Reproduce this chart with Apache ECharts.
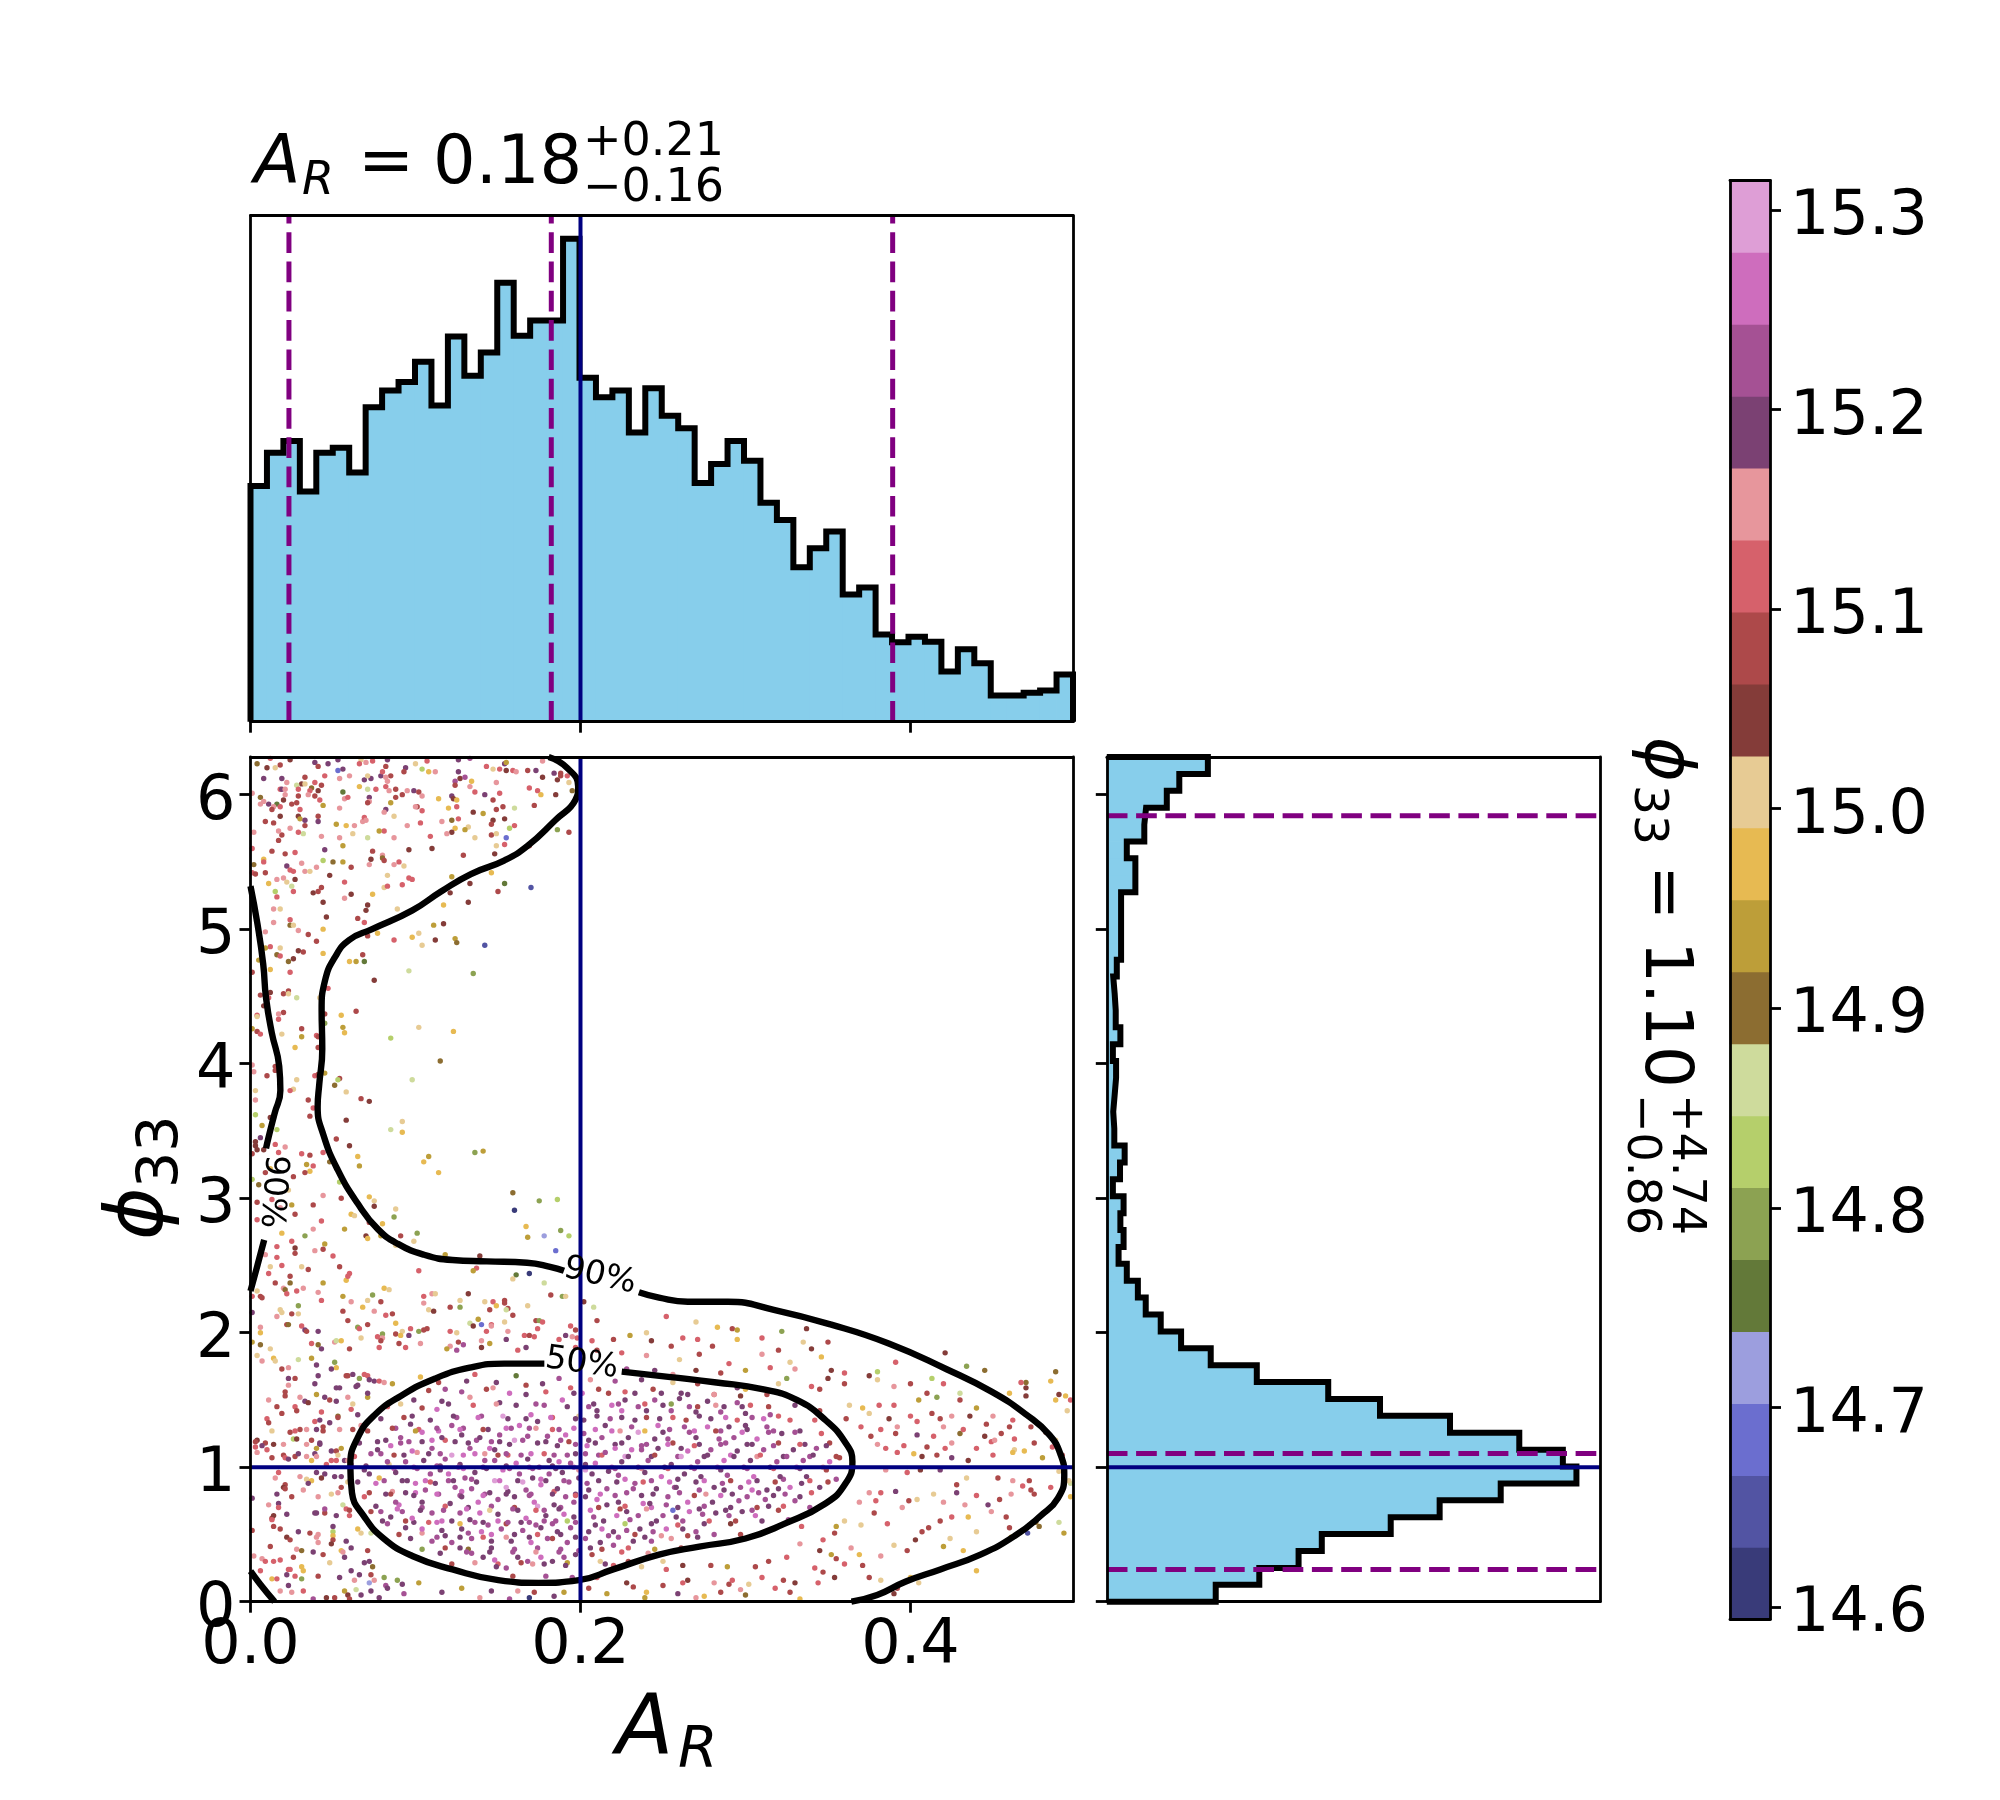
<!DOCTYPE html>
<html><head><meta charset="utf-8"><style>html,body{margin:0;background:#fff}#c{width:2000px;height:1800px}</style>
<script src="https://cdn.jsdelivr.net/npm/echarts@6/dist/echarts.min.js"></script></head><body><div id="c"></div>
<script>
const xMax=0.4985, yMax=6.28;
const histTop=[560,639,667,547,639,651,592,747,787,807,855,751,915,822,877,1043,917,953,953,1147,817,771,787,687,792,727,697,567,612,667,620,520,479,367,412,452,302,319,207,189,202,190,119,172,139,62,62,69,74,112];
const histTopMax=1202;
const histRight=[305,427,537,602,795,932,1103,1315,1277,1155,961,765,620,420,291,208,151,109,87,56,33,47,38,47,17,37,50,21,18,22,26,26,17,38,25,22,18,28,40,40,40,40,80,80,56,105,110,168,203,283];
const histRightMax=1381;
const qX=[0.0233,0.1823,0.3892];
const qY=[0.239,1.101,5.843];
const truthX=0.2, truthY=1;
const xTicks=[0,0.2,0.4];
const yTicks=[0,1,2,3,4,5,6];
const cbarTicks=[14.6,14.7,14.8,14.9,15.0,15.1,15.2,15.3];
const cbarMin=14.5938, cbarMax=15.3148;
const tab20b=['#393b79','#5254a3','#6b6ecf','#9c9ede','#637939','#8ca252','#b5cf6b','#cedb9c','#8c6d31','#bd9e39','#e7ba52','#e7cb94','#843c39','#ad494a','#d6616b','#e7969c','#7b4173','#a55194','#ce6dbd','#de9ed6'];
const contour90=[[0.1807,6.28],[0.1918,6.2],[0.1986,6.06],[0.1969,5.96],[0.1847,5.81],[0.1680,5.62],[0.1537,5.51],[0.1336,5.41],[0.1155,5.28],[0.0981,5.14],[0.0737,5.0],[0.0598,4.92],[0.0511,4.79],[0.0452,4.62],[0.0431,4.40],[0.0435,4.11],[0.0417,3.85],[0.0407,3.68],[0.0442,3.47],[0.0529,3.21],[0.0650,2.96],[0.0772,2.77],[0.0894,2.66],[0.1050,2.58],[0.1224,2.54],[0.1433,2.53],[0.1676,2.52],[0.1816,2.49],[0.1900,2.46]];
const contour90b=[[0.2354,2.30],[0.2476,2.26],[0.2650,2.23],[0.2894,2.23],[0.3172,2.17],[0.3520,2.06],[0.3868,1.92],[0.4216,1.73],[0.4494,1.56],[0.4703,1.39],[0.4842,1.24],[0.4911,1.09],[0.4932,0.94],[0.4894,0.77],[0.4790,0.64],[0.4633,0.49],[0.4424,0.35],[0.4181,0.24],[0.3972,0.15],[0.3798,0.05],[0.3642,0]];
const contour90c=[[0,5.32],[0.0042,5.04],[0.0077,4.74],[0.0094,4.49],[0.0129,4.23],[0.0174,3.98],[0.0181,3.80],[0.0146,3.63],[0.0111,3.46],[0.0094,3.37]];
const contour90d=[[0.0083,2.69],[0.0042,2.50],[0,2.31]];
const contour90e=[[0,0.227],[0.0059,0.13],[0.0146,0]];
const contour50=[[0.1781,1.77],[0.1538,1.77],[0.1328,1.74],[0.1120,1.66],[0.0911,1.53],[0.0754,1.39],[0.0650,1.22],[0.0605,1.01],[0.0615,0.81],[0.0685,0.64],[0.0807,0.47],[0.0981,0.34],[0.1224,0.24],[0.1502,0.16],[0.1746,0.14],[0.1990,0.16],[0.2198,0.24],[0.2476,0.35],[0.2720,0.41],[0.3000,0.47],[0.3238,0.58],[0.3485,0.73],[0.3607,0.88],[0.3648,1.04],[0.3607,1.18],[0.3485,1.35],[0.3311,1.50],[0.3102,1.58],[0.2824,1.63],[0.2546,1.67],[0.2250,1.71]];
const contourLabels=[['90%',0.2117,2.42,-13],['50%',0.2007,1.77,-8],['90%',0.0135,3.05,-94]];
// colour values (phi33 colour-scale value of each scatter point)
const q=14.61,u=14.65,e=14.68,w=14.72,f=14.76,n=14.79,k=14.83,c=14.86,b=14.90,g=14.94,y=14.97,t=15.01,dr=15.04,r=15.08,s=15.12,p=15.15,m=15.19,v=15.22,o=15.26,l=15.30;
// sparse upper-left region
const pointsUpper=[[.004,6.23,b],[.01,6.2,dr],[.015,6.2,t],[.018,6.22,r],[.024,6.26,dr],[.012,6.27,s],[.039,6.24,m],[.041,6.21,r],[.047,6.23,m],[.053,6.26,m],[.053,6.18,e],[.056,6.19,m],[.067,6.26,t],[.066,6.23,s],[.07,6.24,p],[.074,6.25,s],[.082,6.21,r],[.083,6.26,m],[.094,6.2,m],[.093,6.17,r],[.1,6.23,t],[.107,6.25,s],[.108,6.17,y],[.104,6.19,k],[.112,6.17,p],[.126,6.17,m],[.126,6.26,m],[.133,6.27,v],[.143,6.21,s],[.147,6.19,t],[.151,6.19,s],[.155,6.18,dr],[.154,6.23,m],[.155,6.24,g],[.159,6.18,s],[.161,6.17,p],[.168,6.18,r],[.173,6.18,m],[.177,6.25,p],[.184,6.16,m],[.188,6.16,r],
[.008,6.12,m],[.019,6.12,m],[.022,6.09,p],[.033,6.13,r],[.031,6.08,dr],[.033,6.08,t],[.028,6.07,c],[.037,6.05,b],[.039,6.09,s],[.043,6.07,r],[.045,6.14,s],[.054,6.12,p],[.06,6.14,p],[.069,6.11,m],[.073,6.12,m],[.071,6.14,t],[.079,6.14,m],[.08,6.17,s],[.085,6.14,r],[.082,6.13,p],[.083,6.1,p],[.066,6.06,y],[.071,6.04,c],[.076,6.04,s],[.082,6.06,s],[.084,6.03,p],[.088,6.04,r],[.099,6.03,m],[.102,6.02,r],[.095,6.03,p],[.127,6.12,dr],[.124,6.1,v],[.13,6.13,v],[.134,6.1,y],[.124,6.07,r],[.133,6.06,p],[.149,6.09,p],[.177,6.13,dr],[.186,6.11,dr],[.188,6.14,r],[.192,6.14,s],[.193,6.09,t],[.195,6.03,b],[.169,6.05,s],[.174,6.03,s],
[.001,6.01,p],[.006,5.98,b],[.018,6.04,s],[.019,6.04,m],[.021,6.04,p],[.021,6,p],[.029,6.04,s],[.029,5.99,r],[.028,5.94,r],[.025,5.93,r],[.02,5.96,dr],[.016,5.93,f],[.011,5.93,m],[.008,5.95,p],[.006,5.93,p],[.014,5.91,p],[.018,5.91,s],[.013,5.89,r],[.036,6.03,s],[.035,6,p],[.039,5.99,r],[.041,6.03,dr],[.042,5.96,s],[.044,5.92,g],[.056,6.02,f],[.054,5.9,p],[.057,5.97,p],[.059,5.98,s],[.072,5.98,m],[.072,5.95,p],[.071,5.94,r],[.085,5.94,g],[.082,5.89,m],[.081,5.87,p],[.088,5.98,r],[.092,6,r],[.104,5.99,p],[.114,5.97,y],[.101,5.91,r],[.1,5.91,p],[.104,5.88,s],[.122,5.99,m],[.123,5.97,dr],[.125,5.96,y],[.125,5.91,s],[.12,5.9,y],[.136,6.02,s],[.142,6,m],[.151,6.01,s],[.147,5.96,r],[.153,5.91,r],[.149,5.89,r],[.16,5.9,c],[.172,5.92,r],[.176,6,y],[.185,6,dr],
[.03,5.89,s],[.029,5.84,dr],[.03,5.82,g],[.018,5.84,dr],[.009,5.8,r],[.014,5.79,r],[.033,5.81,m],[.033,5.77,r],[.041,5.84,r],[.041,5.8,m],[.052,5.78,g],[.058,5.77,y],[.063,5.77,p],[.068,5.8,p],[.069,5.83,s],[.07,5.81,p],[.087,5.84,t],[.095,5.77,p],[.103,5.79,s],[.116,5.8,p],[.122,5.81,b],[.126,5.82,s],[.135,5.87,dr],[.141,5.86,g],[.147,5.81,dr],[.146,5.78,r],[.154,5.82,dr],[.16,5.77,s],[.157,5.75,k],[.124,5.75,y],[.132,5.76,t],[.13,5.74,g],[.122,5.72,dr],[.119,5.71,p],[.109,5.69,s],[.087,5.68,p],[.081,5.73,s],[.078,5.73,g],[.062,5.71,t],[.054,5.68,p],[.043,5.69,p],[.032,5.71,c],[.029,5.72,s],[.024,5.75,p],[.019,5.7,r],[.017,5.73,p],[.002,5.72,p],[.071,5.68,c],[.146,5.7,r],[.149,5.71,t],[.136,5.68,t],[.155,5.68,e],[.186,5.74,n],[.193,5.72,r],
[.017,5.66,r],[.001,5.6,s],[.013,5.58,r],[.021,5.56,r],[.027,5.57,s],[.045,5.59,m],[.056,5.62,g],[.074,5.58,r],[.08,5.55,p],[.096,5.59,dr],[.11,5.6,dr],[.149,5.62,t],[.154,5.63,s],[.169,5.62,r],[.129,5.55,r],[.148,5.56,dr],[.008,5.52,y],[.008,5.5,s],[.002,5.48,b],[.022,5.47,m],[.031,5.49,p],[.044,5.51,k],[.05,5.5,b],[.056,5.5,g],[.061,5.46,r],[.073,5.52,dr],[.08,5.53,b],[.081,5.51,r],[.072,5.48,p],[.087,5.48,p],[.09,5.5,s],[.093,5.47,t],[.024,5.44,s],[.026,5.43,s],[.033,5.43,p],[.036,5.43,t],[.04,5.46,p],[.001,5.42,s],[.003,5.41,r],[.009,5.42,r],[.048,5.4,dr],[.083,5.4,t],[.096,5.38,s],[.098,5.37,s],[.122,5.39,g],[.146,5.42,y],
[.011,5.34,y],[.016,5.37,p],[.02,5.38,p],[.022,5.35,t],[.027,5.37,dr],[.025,5.32,c],[.026,5.28,s],[.015,5.28,k],[.016,5.24,s],[.038,5.27,dr],[.041,5.28,r],[.043,5.31,r],[.057,5.35,s],[.061,5.26,dr],[.057,5.23,p],[.074,5.26,y],[.081,5.31,t],[.083,5.32,s],[.092,5.33,s],[.133,5.34,dr],[.154,5.34,f],[.17,5.31,u],[.15,5.28,r],[.121,5.27,dr],[.044,5.2,dr],[.071,5.18,dr],[.117,5.18,y],[.132,5.2,dr],
[.014,5.15,p],[.018,5.15,t],[.07,5.14,dr],[.089,5.15,t],[.046,5.09,dr],[.065,5.08,r],[.069,5.05,s],[.024,5.07,s],[.014,5.05,p],[.024,5.03,b],[.026,5.03,t],[.117,5.04,dr],[.111,5.03,g],[.009,4.98,p],[.029,4.99,p],[.035,4.96,r],[.044,5,y],[.077,4.97,y],[.071,4.95,r],[.087,4.92,s],[.098,4.94,y],[.102,4.97,t],[.124,4.93,g],[.125,4.9,b],[.112,4.92,dr],[.142,4.88,u],[.104,4.88,t],[.04,4.91,r],[.012,4.87,s],[.009,4.86,g],[.018,4.86,t],[.029,4.84,dr],[.032,4.83,r],[.044,4.82,y],[.016,4.81,b],[.018,4.8,s],[.026,4.78,dr],[.023,4.76,b],[.005,4.77,g],[.068,4.81,r],[.06,4.76,y],[.064,4.76,g],[.069,4.76,f],
[.012,4.7,y],[.024,4.68,s],[.001,4.68,r],[.096,4.69,c],[.135,4.67,n],[.075,4.62,dr],[.047,4.56,s],[.023,4.54,r],[.02,4.52,r],[.023,4.52,t],[.012,4.53,dr],[.006,4.51,r],[.011,4.49,s],[.028,4.49,c],[.042,4.49,t],[.008,4.43,dr],[.02,4.38,r],[.017,4.37,p],[.004,4.36,s],[.004,4.35,t],[.045,4.37,r],[.064,4.39,r],[.055,4.36,y],[.017,4.33,s],[.045,4.3,n],[.004,4.24,r],
[.031,4.26,r],[.056,4.27,g],[.102,4.27,t],[.001,4.26,g],[.057,4.23,y],[.123,4.24,y],[.006,4.22,s],[.019,4.22,t],[.031,4.2,g],[.04,4.21,s],[.041,4.2,r],[.085,4.19,k],[.027,4.12,y],[.041,4.12,r],[.115,4.02,b],[.015,3.95,r],[.039,3.91,s],[.015,3.98,r],[.001,3.99,p],[.002,3.94,p],[.045,3.93,g],[.041,3.92,r],[.01,3.91,r],[.028,3.88,t],[.054,3.89,r],[.053,3.88,k],[.098,3.88,c],[.051,3.84,b],[.003,3.8,t],[.026,3.81,t],[.024,3.8,s],[.058,3.79,t],[.035,3.73,r],[.067,3.74,r],[.072,3.72,dr],[.003,3.73,p],
[.012,3.6,dr],[.003,3.62,k],[.007,3.54,g],[.016,3.51,k],[.006,3.45,m],[.015,3.4,s],[.003,3.42,dr],[.003,3.39,dr],[.004,3.36,dr],[.008,3.36,dr],[.001,3.33,r],[.021,3.38,p],[.017,3.34,s],[.031,3.33,s],[.036,3.32,r],[.044,3.34,s],[.036,3.61,r],[.038,3.67,s],[.058,3.58,dr],[.052,3.44,r],[.06,3.39,dr],[.065,3.31,y],[.066,3.24,g],[.048,3.27,b],[.034,3.25,g],[.038,3.24,s],[.036,3.2,y],[.033,3.19,r],[.026,3.16,r],[.009,3.19,r],[.012,3.22,y],[.001,3.14,k],[.005,3.1,b],[.023,3.06,t],[.054,3.12,k],[.044,3.02,p],[.055,3,r],[.013,2.99,s],[.004,2.97,r],[.025,2.95,g],[.038,2.95,r],[.018,2.93,p],[.027,2.88,r],[.004,2.84,s],[.043,2.83,s],[.038,2.77,p],[.019,2.74,y],[.033,2.72,n],[.025,2.68,s],[.016,2.64,s],[.027,2.63,dr],[.027,2.59,r],[.009,2.58,p],[.016,2.56,s],[.045,2.66,g],[.044,2.62,r],[.039,2.61,p],[.05,2.57,s],[.057,2.77,g],
[.092,3.57,t],[.092,3.49,y],[.085,3.51,c],[.136,3.34,n],[.141,3.35,g],[.105,3.27,y],[.108,3.31,g],[.114,3.19,y],[.072,3.01,y],[.075,2.98,t],[.075,2.94,dr],[.088,2.92,t],[.087,2.86,n],[.159,3.04,b],[.175,2.98,n],[.186,2.99,k],[.16,2.91,q],[.061,2.88,y],[.063,2.87,t],[.072,2.82,r],[.08,2.81,y],[.167,2.79,y],[.168,2.71,g],[.178,2.72,w],[.188,2.76,n],[.193,2.72,k],[.185,2.61,e],[.07,2.72,dr],[.071,2.7,y],[.079,2.72,g],[.091,2.72,r],[.101,2.74,n],[.099,2.68,t],[.088,2.65,t],[.118,2.58,g],[.139,2.57,dr],[.137,2.48,s],[.135,2.46,g],[.102,2.46,s],[.161,2.43,f],[.169,2.44,q],[.159,2.4,t],[.178,2.37,c],[.019,2.5,s],[.012,2.49,t],[.031,2.49,t],[.035,2.47,r],[.054,2.49,r],[.011,2.44,s],[.024,2.42,r],[.015,2.37,r],[.024,2.37,b],[.044,2.37,g],[.058,2.39,y],[.06,2.44,s],[.059,2.42,s],[.081,2.33,y],[.084,2.32,t],[.004,2.31,t],[.02,2.33,p],[.021,2.32,b],[.022,2.29,s],[.028,2.31,s],[.032,2.33,p],[.041,2.3,p],[.074,2.28,n],[.056,2.27,g],[.001,2.27,s],[.006,2.27,r],[.007,2.26,r],[.132,2.29,dr],[.105,2.27,s],[.11,2.29,p],[.112,2.29,t],[.182,2.28,r],[.189,2.27,n],[.191,2.27,t],[.202,2.23,dr],[.154,2.24,r],[.154,2.22,r],[.029,2.2,n],[.043,2.24,s],[.061,2.23,p],[.071,2.24,t],[.079,2.23,r],[.105,2.22,p],[.127,2.24,t],[.142,2.23,t],[.147,2.23,s],[.149,2.2,y],[.156,2.18,r],[.168,2.2,t],[.208,2.19,c],[.068,2.19,y],[.121,2.19,r],[.127,2.19,n],[.145,2.17,r],[.155,2.17,c],[.018,2.17,t],[.019,2.15,t],[.025,2.14,r],[.029,2.14,t],[.001,2.15,m],[.056,2.16,r],[.075,2.16,p],[.086,2.14,r],[.082,2.13,s],[.108,2.17,t],[.111,2.16,dr],[.159,2.13,r],[.016,2.12,p],[.059,2.09,r],[.138,2.1,g],[.173,2.09,r],[.175,2.09,n],[.177,2.08,s],[.154,2.08,t],[.21,2.09,r],[.022,2.06,r],[.023,2.06,b],[.031,2.05,s],[.071,2.06,r],[.088,2.07,y],[.133,2.07,c],[.135,2.05,dr],[.14,2.06,e],[.146,2.06,s],[.146,2.05,p],[.194,2.05,s],[.006,2.04,p],[.006,2,y],[.033,2.02,m],[.034,2.01,r],[.041,2.01,m],[.065,2.04,n],[.066,2.03,s],[.097,2.03,s],[.092,2.01,t],[.102,2.01,n],[.107,2.03,r],[.105,2.02,r],[.121,2.01,s],[.125,2,t],[.143,2.01,s],[.156,2.01,p],[.174,2.03,s],[.197,2.02,r],[.08,1.99,n],[.077,1.97,s],[.08,1.96,p],[.088,1.99,r],[.091,1.98,y],[.096,1.98,m],[.166,1.98,s],[.169,1.98,r],[.172,1.97,s],[.191,1.98,m],[.195,1.97,p],[.001,1.93,g],[.006,1.91,b],[.037,1.92,s],[.041,1.91,b],[.051,1.93,p],[.052,1.94,c],[.055,1.94,y],[.067,1.96,t],[.079,1.94,r],[.09,1.92,r],[.103,1.92,p],[.126,1.93,r],[.129,1.91,v],[.14,1.94,p],[.145,1.92,g],[.155,1.95,m],[.187,1.95,s],[.198,1.96,s],[.207,1.94,s],[.012,1.88,t],[.043,1.88,m],[.06,1.88,r],[.078,1.89,s],[.094,1.89,s],[.121,1.9,p],[.119,1.88,g],[.125,1.87,v],[.14,1.89,dr],[.167,1.89,m],[.162,1.87,s],[.197,1.89,s]];
// 90 % band and surroundings of the lower region
const pointsOuter=[[.004,1.83,t],[.007,1.79,p],[.014,1.81,y],[.015,1.79,t],[.029,1.8,c],[.037,1.81,g],[.019,1.73,r],[.023,1.74,p],[.023,1.66,m],[.027,1.66,r],[.023,1.61,p],[.04,1.76,m],[.051,1.78,n],[.052,1.74,y],[.049,1.73,m],[.041,1.68,m],[.039,1.62,m],[.058,1.68,r],[.059,1.68,r],[.062,1.69,m],[.066,1.66,n],[.069,1.69,s],[.071,1.68,s],[.072,1.65,m],[.075,1.64,m],[.078,1.64,s],[.081,1.63,p],[.086,1.62,g],[.065,1.61,m],[.064,1.6,m],[.052,1.59,m],[.054,1.59,m],[.021,1.56,r],[.021,1.53,r],[.011,1.5,p],[.03,1.52,p],[.033,1.49,m],[.035,1.48,dr],[.04,1.54,g],[.045,1.52,m],[.048,1.5,r],[.052,1.49,m],[.059,1.52,p],[.062,1.47,t],[.071,1.52,g],[.071,1.55,m],[.016,1.45,r],[.027,1.45,s],[.028,1.42,r],[.019,1.4,r],[.043,1.41,s],[.061,1.43,s],[.065,1.39,m],[.053,1.38,b],[.053,1.37,r],[.01,1.36,s],[.011,1.33,r],[.039,1.34,s],[.042,1.35,m],[.048,1.33,m],[.044,1.3,r],[.044,1.27,r],[.013,1.27,t],[.024,1.26,r],[.027,1.27,s],[.03,1.28,r],[.034,1.28,p],[.04,1.28,m],[.054,1.28,p],[.062,1.28,r],[.067,1.31,p],[.026,1.21,k],[.028,1.21,dr],[.004,1.2,dr],[.003,1.19,r],[.009,1.18,r],[.014,1.17,dr],[.007,1.16,m],[.02,1.17,p],[.003,1.15,s],[.004,1.11,p],[.01,1.13,s],[.037,1.2,r],[.042,1.18,m],[.042,1.17,m],[.034,1.17,p],[.04,1.14,g],[.039,1.1,m],[.049,1.12,m],[.052,1.12,r],[.055,1.14,g],[.053,1.09,t],[.013,1.07,r],[.02,1.09,r],[.021,1.07,s],[.023,1.06,m],[.027,1.08,r],[.029,1.1,m],[.034,1.08,p],[.037,1.05,y],[.04,1.08,p],[.049,1.05,s],[.046,1.02,s],[.052,1.05,s],[.057,1.05,m],[.059,1.05,p],[.061,1.02,v],
[.015,.92,p],[.017,.96,s],[.03,.93,p],[.034,.91,t],[.037,.9,y],[.04,.96,m],[.045,.95,m],[.051,.93,m],[.055,.93,m],[.059,.89,t],[.021,.87,r],[.02,.85,dr],[.035,.88,m],[.043,.92,dr],[.021,.84,r],[.016,.8,m],[.025,.78,r],[.032,.83,p],[.041,.78,p],[.049,.8,t],[.053,.81,p],[.055,.85,r],[.001,.77,m],[.011,.72,p],[.017,.73,m],[.017,.7,s],[.039,.66,m],[.04,.66,m],[.045,.66,r],[.045,.69,v],[.052,.64,m],[.056,.72,c],[.058,.69,s],[.06,.68,r],[.06,.64,s],[.022,.65,m],[.013,.62,r],[.014,.64,dr],[.013,.61,s],[.014,.56,r],[.018,.54,r],[.001,.53,r],[.029,.52,m],[.036,.51,r],[.041,.5,p],[.04,.48,p],[.022,.48,dr],[.024,.46,r],[.05,.56,m],[.05,.52,k],[.05,.49,y],[.05,.46,r],[.049,.43,dr],[.065,.54,y],[.055,.38,y],[.058,.45,m],[.061,.4,m],[.012,.41,r],[.002,.34,p],[.007,.32,p],[.009,.3,s],[.014,.3,s],[.018,.31,s],[.026,.33,r],[.028,.39,p],[.031,.38,b],[.041,.44,p],[.038,.37,m],[.044,.35,r],[.048,.29,t],[.056,.37,p],[.057,.33,m],[.067,.51,t],[.073,.51,c],[.071,.38,r],[.006,.23,s],[.013,.17,y],[.016,.17,s],[.022,.2,m],[.023,.24,s],[.024,.24,s],[.027,.19,s],[.031,.26,y],[.032,.23,y],[.031,.17,n],[.041,.19,r],[.054,.18,m],[.061,.23,m],[.063,.16,p],[.066,.2,m],[.069,.29,m],[.072,.3,m],[.074,.26,b],[.073,.2,r],[.018,.08,p],[.023,.12,m],[.025,.07,p],[.032,.08,s],[.038,.02,v],[.046,.03,dr],[.051,.03,r],[.057,.08,g],[.059,.05,dr],[.06,.02,r],[.064,.09,c],[.067,.05,m],[.072,.14,w],[.075,.16,p],[.073,.08,m],[.081,.18,n],[.089,.16,n],[.082,.12,v],[.083,.1,m],[.092,.13,m],[.102,.14,g],[.128,.1,g],[.116,.07,m],[.169,.03,q],[.078,.03,m],[.093,.06,v],[.184,.04,m],[.19,.07,g],[.157,.02,v],[.172,.07,r],[.162,.08,p],[.146,.08,m],[.139,.03,p],
[.21,.18,s],[.205,.1,r],[.216,.06,g],[.228,.14,dr],[.232,.11,r],[.24,.07,y],[.239,.03,g],[.25,.12,r],[.259,.06,m],[.262,.14,s],[.27,.03,p],[.265,.16,dr],[.275,.04,y],[.285,.07,r],[.29,.13,r],[.297,.09,p],[.302,.13,t],[.281,.14,p],[.292,.16,s],[.3,.05,b],[.31,.18,s],[.323,.16,r],[.318,.1,s],[.33,.14,dr],[.327,.07,r],[.333,.02,y],[.344,.14,s],[.347,.22,r],[.354,.18,dr],[.342,.25,s],[.345,.38,dr],[.352,.35,g],[.355,.32,r],[.36,.28,s],[.371,.27,r],[.375,.18,r],[.382,.16,t],[.39,.06,dr],[.392,.1,r],[.405,.14,t],[.4,.18,y],[.212,.3,t],[.22,.27,s],[.229,.3,r],[.237,.26,t],[.25,.3,t],[.252,.24,s],[.262,.27,dr],[.279,.27,r],[.289,.26,g],[.306,.26,r],[.314,.3,r],[.325,.33,s],[.333,.43,p],[.334,.56,s],[.347,.46,s],[.354,.51,r],[.355,.56,g],[.364,.4,p],[.369,.35,y],[.382,.34,p],[.39,.42,t],[.398,.38,r],[.403,.46,dr],[.42,.41,g],[.432,.38,y],[.44,.23,y],[.424,.47,t],[.407,.52,r],[.386,.58,s],[.378,.66,r],[.37,.57,t],[.36,.6,t],[.411,.55,r],[.418,.6,r],[.425,.63,s],[.435,.63,y],[.44,.52,t],[.449,.67,p],[.458,.63,r],[.46,.55,r],[.461,.48,g],[.476,.59,b],[.478,.56,b],[.49,.59,c],[.493,.51,g],[.471,.51,u],
[.375,.81,p],[.379,.75,s],[.369,.74,p],[.382,.81,s],[.391,.82,m],[.399,.75,r],[.395,.7,p],[.404,.76,t],[.414,.8,t],[.42,.74,p],[.428,.81,m],[.433,.72,p],[.44,.79,s],[.447,.72,m],[.454,.76,r],[.461,.8,p],[.468,.86,s],[.473,.83,r],[.475,.8,r],[.485,.85,s],[.497,.78,y],[.497,.88,c],[.496,.9,t],[.385,.98,p],[.398,.96,s],[.406,.98,dr],[.418,.98,m],[.428,.87,r],[.434,.92,t],[.453,.92,r],[.462,.9,p],[.472,.9,r],[.49,.97,t],[.407,1.08,dr],[.402,1.1,y],[.416,1.09,r],[.425,1.07,m],[.435,1.05,dr],[.45,1.09,s],[.469,1.12,y],[.463,1.13,t],[.48,1.07,g],[.492,1.09,r],[.486,1.15,s],[.449,1.19,s],[.462,1.11,y],[.38,1.17,p],[.385,1.14,s],[.392,1.11,s],[.396,1.16,s],[.41,1.15,r],[.421,1.14,s],[.425,1.18,p],[.44,1.14,s],[.451,1.2,p],[.463,1.21,s],[.475,1.18,r],[.488,1.2,t],[.376,1.23,r],[.391,1.25,r],[.404,1.24,m],[.414,1.23,s],[.42,1.3,p],[.43,1.25,b],[.445,1.23,dr],[.455,1.25,r],[.473,1.3,r],[.482,1.26,dr],[.37,1.3,s],[.382,1.28,s],[.392,1.3,p],[.404,1.34,s],[.418,1.36,r],[.432,1.28,s],[.446,1.32,r],[.46,1.3,r],[.361,1.36,r],[.375,1.4,t],[.387,1.36,dr],[.4,1.38,s],[.413,1.4,r],[.425,1.38,p],[.44,1.44,g],[.436,1.38,dr],[.45,1.38,p],[.462,1.35,s],[.345,1.42,r],[.363,1.46,t],[.371,1.44,y],[.381,1.46,s],[.39,1.46,s],[.405,1.5,g],[.416,1.52,n],[.43,1.5,r],[.46,1.55,y],[.47,1.53,dr],[.49,1.54,dr],[.494,1.53,y],[.497,1.5,s],[.495,1.42,t],[.488,1.5,y],[.485,1.64,y],[.47,1.59,dr],[.47,1.63,b],[.488,1.71,b],[.375,1.68,dr],[.38,1.71,k],[.38,1.65,t],[.39,1.6,p],[.4,1.62,r],[.42,1.62,s],[.41,1.55,r],[.43,1.55,c],[.345,1.58,r],[.35,1.66,dr],[.36,1.62,r],[.434,1.75,n],[.391,1.78,s],[.413,1.66,k],[.421,1.85,dr],[.467,1.63,s],[.445,1.72,b],
[.252,2.12,s],[.27,2.08,t],[.283,2.04,y],[.292,2.03,r],[.295,2.02,g],[.322,2.01,n],[.337,2.03,dr],[.24,2.0,t],[.22,1.95,r],[.23,1.98,g],[.243,1.94,dr],[.255,1.9,r],[.262,1.96,s],[.271,1.95,s],[.28,1.9,r],[.295,1.95,y],[.31,1.96,s],[.32,1.87,r],[.335,1.93,t],[.34,1.88,dr],[.35,1.93,r],[.21,1.87,r],[.225,1.85,s],[.24,1.83,p],[.26,1.8,t],[.272,1.84,r],[.29,1.77,s],[.31,1.84,p],[.327,1.78,t],[.346,1.82,y],[.352,1.72,dr],[.36,1.7,s],[.33,1.73,p],[.315,1.74,s],[.3,1.72,g],[.285,1.7,r],[.27,1.72,dr],[.256,1.69,p],[.245,1.72,m],[.228,1.73,v],[.325,1.66,n],[.34,1.6,s],[.32,1.62,t],[.3,1.58,y]];
// inside the 50 % contour
const pointsCore=[[.103,1.67,y],[.114,1.63,r],[.118,1.58,v],[.131,1.64,m],[.136,1.69,s],[.147,1.59,p],[.149,1.63,m],[.161,1.68,f],[.167,1.61,r],[.177,1.62,m],[.187,1.66,v],[.194,1.59,s],[.099,1.5,m],[.108,1.57,r],[.116,1.49,m],[.128,1.56,v],[.133,1.52,p],[.143,1.58,r],[.151,1.48,m],[.157,1.55,o],[.167,1.54,m],[.173,1.47,v],[.179,1.56,s],[.189,1.5,o],[.196,1.55,m],
[.083,1.45,s],[.091,1.47,t],[.098,1.38,m],[.104,1.44,r],[.113,1.43,o],[.12,1.47,m],[.125,1.37,v],[.135,1.46,s],[.14,1.38,v],[.149,1.47,p],[.156,1.36,m],[.161,1.46,m],[.17,1.39,o],[.178,1.46,v],[.183,1.37,s],[.192,1.45,m],[.199,1.38,t],[.079,1.36,m],[.088,1.29,v],[.093,1.37,r],[.102,1.28,s],[.109,1.35,m],[.114,1.27,o],[.123,1.38,m],[.129,1.29,v],[.138,1.37,o],[.144,1.28,m],[.153,1.38,l],[.158,1.29,v],[.167,1.36,m],[.173,1.29,p],[.182,1.37,o],[.187,1.28,v],[.197,1.36,m],
[.071,1.27,r],[.077,1.19,m],[.086,1.29,r],[.091,1.18,v],[.1,1.27,g],[.104,1.19,m],[.113,1.29,v],[.118,1.2,s],[.127,1.28,o],[.132,1.18,m],[.141,1.28,r],[.146,1.19,v],[.155,1.29,o],[.16,1.2,l],[.169,1.29,v],[.174,1.18,m],[.183,1.28,s],[.188,1.2,v],[.196,1.29,o],[.066,1.18,m],[.073,1.1,v],[.082,1.2,m],[.087,1.09,r],[.096,1.19,v],[.101,1.11,p],[.11,1.2,o],[.115,1.1,v],[.124,1.19,m],[.129,1.09,o],[.137,1.2,v],[.142,1.1,p],[.151,1.19,m],[.156,1.09,s],[.165,1.2,v],[.17,1.1,o],[.179,1.19,m],[.184,1.09,v],[.193,1.19,r],[.197,1.1,m],
[.063,1.08,s],[.07,1.01,m],[.079,1.1,v],[.084,1.02,t],[.093,1.09,m],[.099,1,o],[.108,1.1,m],[.113,1.01,v],[.122,1.09,l],[.127,1.02,m],[.136,1.1,o],[.141,1,v],[.15,1.09,r],[.155,1.01,m],[.164,1.09,v],[.169,1,o],[.178,1.1,s],[.183,1.01,m],[.192,1.09,v],[.196,1,o],[.069,.98,m],[.078,.92,y],[.087,.99,o],[.092,.9,m],[.101,.99,v],[.106,.9,o],[.115,.98,m],[.12,.9,v],[.129,.99,o],[.134,.91,v],[.143,.99,m],[.148,.9,l],[.157,.99,v],[.162,.9,m],[.171,.99,v],[.176,.91,o],[.185,.99,m],[.19,.9,v],[.199,.98,p],
[.065,.89,m],[.072,.81,r],[.081,.9,v],[.086,.82,p],[.095,.9,m],[.1,.81,o],[.109,.89,s],[.114,.8,v],[.123,.9,m],[.128,.82,o],[.137,.89,m],[.142,.8,v],[.151,.9,o],[.156,.82,m],[.165,.89,l],[.17,.8,v],[.179,.9,m],[.184,.82,s],[.193,.89,v],[.197,.8,m],[.069,.78,s],[.076,.71,m],[.085,.8,r],[.09,.72,o],[.099,.79,m],[.104,.7,v],[.113,.8,o],[.118,.71,s],[.127,.79,v],[.132,.7,m],[.141,.79,o],[.146,.71,v],[.155,.8,m],[.16,.7,r],[.169,.79,v],[.174,.71,l],[.183,.8,m],[.188,.7,v],[.197,.79,s],
[.073,.67,r],[.08,.6,m],[.089,.69,o],[.094,.6,r],[.103,.68,m],[.108,.59,s],[.117,.68,v],[.122,.6,m],[.131,.69,o],[.136,.59,v],[.145,.68,t],[.15,.6,o],[.159,.69,v],[.164,.59,m],[.173,.68,s],[.178,.6,v],[.187,.69,m],[.192,.6,k],[.083,.58,v],[.09,.5,r],[.099,.59,m],[.104,.51,p],[.113,.59,o],[.118,.49,m],[.127,.58,y],[.132,.51,v],[.141,.59,m],[.146,.5,o],[.155,.58,r],[.16,.5,m],[.169,.59,v],[.174,.5,s],[.183,.58,v],[.188,.5,m],[.197,.59,v],
[.097,.47,m],[.104,.39,n],[.113,.48,v],[.118,.4,r],[.127,.48,m],[.132,.39,b],[.141,.48,s],[.146,.4,m],[.155,.48,p],[.16,.39,v],[.169,.48,m],[.174,.4,v],[.183,.47,r],[.188,.39,v],[.197,.48,m],[.115,.36,m],[.122,.28,r],[.131,.37,v],[.136,.29,p],[.145,.37,m],[.15,.28,s],[.159,.37,v],[.164,.29,r],[.173,.37,p],[.178,.28,m],[.187,.37,v],[.192,.29,g],[.199,.38,v],[.149,.26,m],[.159,.19,r],[.171,.28,p],[.179,.19,v],[.191,.27,m],[.195,.18,v],
[.206,1.65,p],[.211,1.58,r],[.221,1.64,v],[.227,1.56,s],[.237,1.65,m],[.244,1.58,r],[.256,1.63,t],[.261,1.55,m],[.271,1.62,r],[.281,1.54,s],[.295,1.59,m],[.201,1.55,o],[.208,1.47,m],[.217,1.55,r],[.223,1.47,v],[.233,1.55,m],[.239,1.47,s],[.249,1.55,m],[.255,1.47,n],[.265,1.54,m],[.271,1.45,r],[.281,1.54,p],[.287,1.45,m],[.297,1.53,dr],[.303,1.46,s],[.313,1.54,r],[.205,1.45,v],[.21,1.38,m],[.219,1.46,o],[.225,1.37,m],[.235,1.45,v],[.24,1.37,r],[.25,1.46,m],[.256,1.37,s],[.266,1.45,v],[.272,1.38,m],[.282,1.46,p],[.288,1.37,o],[.298,1.45,m],[.304,1.37,v],[.314,1.45,r],[.32,1.38,s],[.33,1.46,m],
[.202,1.35,m],[.209,1.28,o],[.218,1.36,v],[.224,1.27,p],[.233,1.35,m],[.239,1.27,y],[.248,1.36,m],[.254,1.28,v],[.264,1.35,r],[.269,1.27,o],[.279,1.36,m],[.285,1.27,v],[.295,1.35,s],[.301,1.28,m],[.311,1.36,o],[.317,1.27,v],[.327,1.35,s],[.333,1.27,m],[.342,1.35,s],[.202,1.25,v],[.209,1.18,m],[.219,1.27,o],[.225,1.18,m],[.235,1.26,l],[.24,1.17,v],[.25,1.26,m],[.256,1.18,r],[.266,1.26,v],[.272,1.17,m],[.282,1.27,r],[.288,1.18,v],[.298,1.26,o],[.304,1.17,m],[.314,1.26,v],[.32,1.18,r],[.33,1.26,v],[.336,1.17,m],[.346,1.25,s],[.351,1.18,r],
[.204,1.16,o],[.211,1.09,v],[.221,1.17,m],[.227,1.08,l],[.237,1.16,v],[.243,1.08,m],[.253,1.17,o],[.259,1.08,v],[.269,1.16,s],[.275,1.08,m],[.285,1.17,v],[.291,1.09,o],[.301,1.17,m],[.307,1.08,p],[.317,1.16,v],[.323,1.08,m],[.333,1.17,s],[.339,1.08,v],[.349,1.16,m],[.355,1.08,r],[.203,1.02,m],[.213,1.09,s],[.219,1,o],[.229,1.08,m],[.235,1,v],[.245,1.09,r],[.251,1,m],[.261,1.08,l],[.267,1,v],[.277,1.09,m],[.283,1,o],[.293,1.08,m],[.299,1,v],[.309,1.09,s],[.315,1,m],[.325,1.08,v],[.331,1,o],[.341,1.09,m],[.347,1,p],[.357,1.07,r],
[.203,.98,l],[.211,.9,m],[.221,.99,v],[.227,.91,o],[.237,.99,p],[.243,.9,v],[.253,.99,s],[.259,.91,m],[.269,.99,v],[.275,.9,o],[.285,.98,m],[.291,.9,r],[.301,.99,v],[.307,.9,m],[.317,.99,s],[.323,.91,v],[.333,.99,m],[.339,.9,s],[.349,.98,r],[.355,.91,v],[.204,.88,v],[.212,.8,o],[.222,.89,m],[.228,.81,v],[.238,.89,s],[.244,.8,m],[.254,.89,o],[.26,.81,v],[.27,.89,m],[.276,.8,p],[.286,.88,v],[.292,.8,m],[.302,.89,o],[.308,.81,v],[.318,.89,r],[.324,.8,v],[.334,.88,m],[.34,.81,s],[.35,.89,r],
[.203,.78,m],[.211,.7,r],[.221,.79,v],[.227,.71,s],[.237,.79,m],[.243,.7,o],[.253,.78,v],[.259,.7,m],[.269,.79,r],[.275,.71,v],[.285,.79,o],[.291,.7,m],[.301,.78,v],[.307,.7,r],[.317,.79,m],[.323,.71,s],[.333,.78,m],[.339,.7,v],[.206,.68,o],[.214,.6,m],[.224,.69,r],[.23,.61,v],[.24,.69,p],[.246,.6,m],[.256,.68,e],[.262,.6,v],[.272,.69,m],[.278,.6,s],[.288,.68,m],[.294,.6,r],[.304,.68,v],[.31,.6,m],[.32,.68,r],[.326,.61,v],[.209,.57,m],[.217,.49,v],[.227,.58,k],[.233,.5,r],[.243,.58,m],[.249,.49,p],[.259,.57,s],[.265,.49,r],[.275,.58,m],[.281,.5,v],[.291,.58,dr],[.297,.5,r],[.203,.47,v],[.213,.39,r],[.223,.48,v],[.229,.4,s],[.239,.48,m],[.245,.39,g],[.255,.47,p],[.261,.4,r],[.271,.48,m],[.207,.35,r],[.215,.28,m],[.225,.37,s],[.231,.29,r],[.241,.36,p]];
// extra marks of the densest part of the cloud
const pointsDense=[[.148,1.05,v],[.153,.98,o],[.163,.95,v],[.171,.92,m],[.176,.87,o],[.181,.95,v],[.186,.84,m],[.191,.78,v],[.196,.74,v],[.184,.72,m],[.178,.68,v],[.172,.74,o],[.167,.83,v],[.16,.78,m],[.155,.85,l],[.15,.76,v],[.145,.81,m],[.138,.74,o],[.134,.84,v],[.128,.78,m],[.124,.85,v],[.12,.95,o],[.115,1.01,m],[.109,.95,v],[.105,1.05,m],[.098,1.12,o],[.094,1.04,v],[.088,.96,m],[.083,1.04,v],[.077,1.13,m],[.085,1.16,o],[.091,1.22,v],[.097,1.32,m],[.104,1.26,o],[.11,1.14,v],[.116,1.22,m],[.122,1.31,v],[.128,1.24,m],[.133,1.14,v],[.139,1.22,m],[.145,1.14,o],[.151,1.24,v],[.157,1.17,m],[.163,1.31,o],[.168,1.23,v],[.174,1.34,m],[.18,1.23,v],[.186,1.16,m],[.191,1.24,o],[.197,1.17,v],[.199,.92,m],[.189,.96,m],[.194,1.03,v],[.187,1.04,o],[.181,1.05,m],[.175,1.0,v],[.168,1.06,m],[.161,1.03,o],[.155,1.1,v],[.148,1.13,m],[.142,1.05,v],[.136,.96,m],[.13,.92,v],[.126,1.0,o],[.118,1.06,v],[.112,.88,m],[.106,.83,v],[.1,.88,o],[.094,.81,m],[.088,.74,v],[.082,.8,m],[.076,.88,o],[.072,.95,m],[.079,.67,v],[.085,.63,m],[.092,.67,v],[.098,.62,o],[.104,.74,m],[.11,.66,v],[.116,.6,o],[.121,.73,m],[.127,.66,v],[.133,.61,m],[.139,.66,o],[.144,.57,v],[.15,.65,m],[.156,.59,v],[.162,.68,m],[.167,.62,o],[.173,.57,v],[.179,.64,m],[.185,.6,v],[.19,.65,o],[.196,.63,m],[.194,.55,v],[.186,.52,m],[.18,.47,v],[.176,.55,m],[.17,.44,o],[.165,.53,v],[.158,.45,m],[.152,.54,v],[.146,.45,m],[.14,.52,o],[.134,.47,v],[.128,.54,m],[.122,.44,v],[.116,.53,m],[.11,.45,v],[.104,.54,o],[.094,.55,m],[.192,.44,v],[.197,.35,m],[.19,.33,v],[.183,.3,m],[.176,.33,o],[.168,.3,v],[.162,.33,m],[.155,.25,v],[.148,.31,o],[.141,.33,m],[.134,.36,v],[.127,.4,m],
[.203,1.1,v],[.207,.95,m],[.209,1.03,o],[.215,1.11,v],[.217,.97,m],[.223,.94,v],[.225,1.04,m],[.231,1.13,o],[.233,.88,v],[.239,.96,m],[.241,1.05,v],[.247,1.14,m],[.249,.93,o],[.255,1.02,m],[.257,.85,v],[.263,.95,m],[.265,1.12,o],[.271,1.04,v],[.273,.93,m],[.279,1.13,v],[.281,.85,m],[.287,1.05,o],[.289,.94,v],[.295,1.12,m],[.297,.85,v],[.303,1.05,m],[.305,.93,o],[.311,1.13,v],[.313,.83,m],[.319,1.04,v],[.321,.93,m],[.327,.85,o],[.329,1.13,m],[.335,1.05,v],[.337,.93,m],[.343,1.14,v],[.345,.85,m],[.351,1.04,o],[.205,1.2,m],[.213,1.22,v],[.215,1.31,m],[.221,1.14,o],[.229,1.22,m],[.231,1.3,v],[.237,1.13,v],[.245,1.21,m],[.247,1.31,o],[.253,1.21,v],[.261,1.14,m],[.263,1.3,v],[.27,1.22,m],[.277,1.3,o],[.284,1.21,v],[.29,1.3,m],[.293,1.22,v],[.3,1.31,m],[.307,1.21,o],[.313,1.3,v],[.322,1.25,m],[.205,.83,m],[.21,.76,o],[.216,.84,v],[.223,.74,m],[.232,.84,v],[.238,.73,o],[.246,.84,m],[.252,.72,v],[.258,.85,m],[.265,.74,o],[.272,.83,v],[.28,.74,m],[.287,.83,m],[.296,.75,v],[.304,.83,o],[.312,.76,v],[.32,.84,m],[.33,.75,v],[.208,.63,v],[.216,.72,m],[.222,.64,o],[.228,.67,m],[.235,.64,v],[.242,.73,m],[.25,.64,v],[.258,.63,m],[.266,.67,o],[.274,.65,v],[.282,.66,m],[.29,.64,v],[.298,.67,m],[.306,.64,o],[.314,.71,m],[.205,.52,m],[.213,.54,o],[.22,.52,m],[.228,.53,v],[.236,.54,m],[.244,.52,v],[.252,.54,o],[.262,.54,m],[.27,.52,v],[.212,.44,m],[.22,.42,v],[.232,.45,m],[.206,.4,m],[.243,.45,v],[.21,1.42,m],[.225,1.42,o],[.24,1.42,m],[.255,1.42,v],[.27,1.41,m],[.285,1.41,v],[.3,1.4,m],[.315,1.39,v],[.227,1.5,m],[.245,1.5,v],[.26,1.51,m],[.277,1.49,m],[.295,1.48,v]];
const points=pointsUpper.concat(pointsOuter,pointsCore,pointsDense);

const ink='#000',blue='#87ceeb',navy='#000080',purple='#800080';
const lw=2.8, fsTick=62;
function axisCommon(g,min,max,ticks,labels,margin,dec,pos){return {type:'value',gridIndex:g,min,max,position:pos,z:10,splitLine:{show:false},
  axisLine:{show:true,onZero:false,lineStyle:{color:ink,width:lw}},
  axisTick:{show:!!ticks,length:11,inside:false,customValues:ticks||[],lineStyle:{color:ink,width:lw}},
  axisLabel:{show:!!labels,customValues:labels||[],fontFamily:'DejaVu Sans',fontSize:fsTick,color:ink,margin,hideOverlap:false,showMinLabel:true,showMaxLabel:true,formatter:a=>a.toFixed(dec)}};}
function xAx(g,min,max,ticks,labels,pos){return axisCommon(g,min,max,ticks,labels,14,1,pos||'bottom');}
function yAx(g,min,max,ticks,labels,pos,dec,margin){const a=axisCommon(g,min,max,ticks,labels,margin||15,dec||0,pos||'left');
  a.axisLabel.formatter=x=>'{a|'+x.toFixed(dec||0)+'}';
  a.axisLabel.rich={a:{fontFamily:'DejaVu Sans',fontSize:fsTick,color:ink,padding:[16,0,0,0]}};return a;}

const grids=[{left:250.5,width:822.5,top:215.7,height:506},{left:250.5,width:822.5,top:757,height:844.7},{left:1106.8,width:493.2,top:757,height:844.7},{left:1730,width:40,top:180.4,height:1439}];
const xAxes=[
 xAx(0,0,xMax,xTicks,null),xAx(0,0,xMax,null,null,'top'),
 xAx(1,0,xMax,xTicks,xTicks),xAx(1,0,xMax,null,null,'top'),
 xAx(2,0,histRightMax,null,null),xAx(2,0,histRightMax,null,null,'top'),
 xAx(3,0,1,null,null),xAx(3,0,1,null,null,'top')];
const yAxes=[
 yAx(0,0,histTopMax,null,null),yAx(0,0,histTopMax,null,null,'right'),
 yAx(1,0,yMax,yTicks,yTicks),yAx(1,0,yMax,null,null,'right'),
 yAx(2,0,yMax,yTicks,null),yAx(2,0,yMax,null,null,'right'),
 yAx(3,cbarMin,cbarMax,null,null),yAx(3,cbarMin,cbarMax,cbarTicks,cbarTicks,'right',1,20)];

const topW=xMax/histTop.length, rightH=yMax/histRight.length;
function topOutline(){const o=[[0,0]];histTop.forEach((a,i)=>{o.push([i*topW,a],[(i+1)*topW,a]);});o.push([xMax,0]);return o;}
function rightOutline(){const o=[[0,0]];histRight.forEach((a,i)=>{o.push([a,i*rightH],[a,(i+1)*rightH]);});o.push([0,yMax]);return o;}
function rectItem(c0,c1,fill){return {type:'rect',shape:{x:Math.min(c0[0],c1[0])-0.4,y:Math.min(c0[1],c1[1])-0.4,width:Math.abs(c1[0]-c0[0])+0.8,height:Math.abs(c1[1]-c0[1])+0.8},style:{fill}};}
function ln(axis,data,color,width,type,z){return {type:'line',xAxisIndex:axis.x,yAxisIndex:axis.y,data,symbol:'none',showSymbol:false,smooth:false,silent:true,clip:axis.clip!==false,z,animation:false,lineStyle:{color,width,type:type||'solid',cap:'butt',join:'miter'}};}
const G0={x:0,y:0,clip:false},G1={x:2,y:2},G2={x:4,y:4,clip:false};
const dash=[20.7,8.6];
const series=[
 {type:'custom',xAxisIndex:0,yAxisIndex:0,z:2,animation:false,silent:true,data:histTop.map((a,i)=>[i*topW,(i+1)*topW,a]),encode:{x:[0,1],y:2},renderItem:(a,api)=>rectItem(api.coord([api.value(0),0]),api.coord([api.value(1),api.value(2)]),blue)},
 ln(G0,topOutline(),ink,6,null,3),
 {type:'custom',xAxisIndex:4,yAxisIndex:4,z:2,animation:false,silent:true,data:histRight.map((a,i)=>[a,i*rightH,(i+1)*rightH]),encode:{x:0,y:[1,2]},renderItem:(a,api)=>rectItem(api.coord([0,api.value(1)]),api.coord([api.value(0),api.value(2)]),blue)},
 ln(G2,rightOutline(),ink,6,null,3),
 ...qX.map(a=>ln({x:0,y:0},[[a,0],[a,histTopMax]],purple,5,dash,4)),
 ...qY.map(a=>ln({x:4,y:4},[[0,a],[histRightMax,a]],purple,5,dash,4)),
 ln({x:0,y:0},[[truthX,0],[truthX,histTopMax]],navy,4,null,5),
 ln({x:4,y:4},[[0,truthY],[histRightMax,truthY]],navy,4,null,5),
 {type:'scatter',xAxisIndex:2,yAxisIndex:2,z:2,animation:false,silent:true,large:false,symbolSize:5.4,data:points,
  itemStyle:{opacity:1,color:a=>tab20b[Math.min(19,Math.floor((a.value[2]-cbarMin)/(cbarMax-cbarMin)*20))]}},
 ...[contour90,contour90b,contour90c,contour90d,contour90e,contour50].map(d=>{const a=ln(G1,d,ink,6.4,null,4);a.smooth=0.5;return a;}),
 ln(G1,[[truthX,0],[truthX,yMax]],navy,4,null,5),
 ln(G1,[[0,truthY],[xMax,truthY]],navy,4,null,5),
 {type:'scatter',xAxisIndex:2,yAxisIndex:2,z:6,animation:false,silent:true,symbolSize:1,itemStyle:{color:'rgba(0,0,0,0)'},
  data:contourLabels.map(a=>({value:[a[1],a[2]],label:{rotate:a[3]}})),
  label:{show:true,position:'inside',fontFamily:'DejaVu Sans',fontSize:33,color:'#000',opacity:1,align:'center',verticalAlign:'middle',formatter:a=>contourLabels[a.dataIndex][0]}},
 {type:'custom',xAxisIndex:6,yAxisIndex:6,z:2,animation:false,silent:true,data:tab20b.map((a,i)=>[cbarMin+i*(cbarMax-cbarMin)/20,cbarMin+(i+1)*(cbarMax-cbarMin)/20]),encode:{y:[0,1]},
  renderItem:(a,api)=>rectItem(api.coord([0,api.value(0)]),api.coord([1,api.value(1)]),tab20b[a.dataIndex])}
];
const ff='"DejaVu Sans"', base=0.25;
function T(text,x,bl,size,italic){return {type:'text',z:20,x,y:bl-base*size,style:{text,font:(italic?'italic ':'')+size+'px '+ff,fill:ink,align:'left',verticalAlign:'middle'}};}
function TR(text,xBase,yStart,size,italic,ccw){const off=base*size;return {type:'text',z:20,x:ccw?xBase-off:xBase+off,y:yStart,rotation:ccw?Math.PI/2:-Math.PI/2,originX:0,originY:0,style:{text,font:(italic?'italic ':'')+size+'px '+ff,fill:ink,align:'left',verticalAlign:'middle'}};}
const texts=[
 T('A',254,182,68,true),T('R',302,194,46,true),T('=',358,182,67),T('0.18',433,182,67),T('+0.21',583,155,46),T('\u22120.16',583,201,46),
 T('A',616,1753,84,true),T('R',678,1766,57,true),
 TR('\u03D5',161,1240,80,true,true),TR('33',177,1188,57,false,true),
 TR('\u03D5',1647,737,68,true),TR('33',1635,785,47,false),TR('=',1645,865,66),TR('1.10',1647,941,66),TR('+4.74',1673,1094,46),TR('\u22120.86',1628,1094,46)
];
const chart=echarts.init(document.getElementById('c'),null,{renderer:'canvas',width:2000,height:1800});
chart.setOption({animation:false,backgroundColor:'#fff',grid:grids,xAxis:xAxes,yAxis:yAxes,series,graphic:{elements:texts}});
</script></body></html>
